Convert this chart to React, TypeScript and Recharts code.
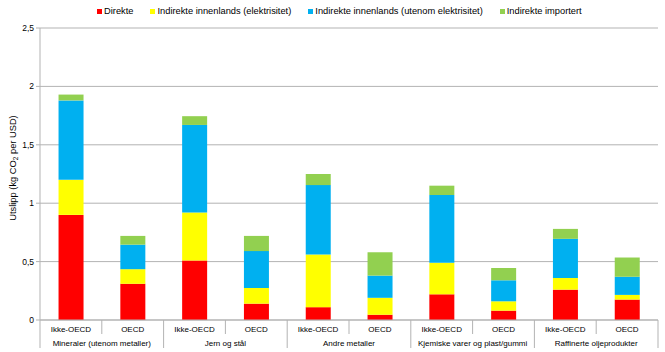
import { BarChart, Bar, XAxis, YAxis, CartesianGrid } from "recharts";

const regions = ["Ikke-OECD", "OECD", "Ikke-OECD", "OECD", "Ikke-OECD", "OECD", "Ikke-OECD", "OECD", "Ikke-OECD", "OECD"];
const sectors = [
  "Mineraler (utenom metaller)",
  "Jern og stål",
  "Andre metaller",
  "Kjemiske varer og plast/gummi",
  "Raffinerte oljeprodukter",
];

const direkte = [0.9, 0.31, 0.51, 0.14, 0.11, 0.045, 0.22, 0.08, 0.26, 0.175];
const elektrisitet = [0.3, 0.125, 0.41, 0.135, 0.45, 0.145, 0.27, 0.08, 0.1, 0.04];
const utenomElektrisitet = [0.68, 0.21, 0.75, 0.315, 0.595, 0.19, 0.58, 0.18, 0.335, 0.155];
const importert = [0.05, 0.075, 0.075, 0.13, 0.095, 0.2, 0.08, 0.105, 0.085, 0.165];

const yTicks = [0, 0.5, 1, 1.5, 2, 2.5];

const series = [
  { key: "direkte", name: "Direkte", color: "#ff0000" },
  { key: "elektrisitet", name: "Indirekte innenlands (elektrisitet)", color: "#ffff00" },
  { key: "utenom", name: "Indirekte innenlands (utenom elektrisitet)", color: "#00b0f0" },
  { key: "importert", name: "Indirekte importert", color: "#92d050" },
];

const data = regions.map((region, i) => ({
  region,
  sector: sectors[Math.floor(i / 2)],
  direkte: direkte[i],
  elektrisitet: elektrisitet[i],
  utenom: utenomElektrisitet[i],
  importert: importert[i],
}));

const W = 665;
const H = 352;
const margin = { top: 28, right: 7, bottom: 2, left: 10 };
const Y_AXIS_W = 30;
const PLOT_W = W - margin.left - margin.right - Y_AXIS_W;
const band = PLOT_W / data.length;

const FONT = "'Liberation Sans', Arial, sans-serif";
const GRID = "#b3b3b3";

function CategoryTick(props: any) {
  const { x, y, payload } = props;
  const i = payload.index;
  const d = data[i];
  const right = x + band / 2;
  const left = x - band / 2;
  return (
    <g>
      <text x={x} y={y + 12} textAnchor="middle" fontSize={8} fill="#000" fontFamily={FONT}>
        {d.region}
      </text>
      {i === 0 && <line x1={left} x2={left} y1={y} y2={y + 28} stroke={GRID} />}
      <line x1={right} x2={right} y1={y} y2={y + (i % 2 === 1 ? 28 : 14)} stroke={GRID} />
      {i % 2 === 0 && (
        <text x={right} y={y + 25.5} textAnchor="middle" fontSize={8} fill="#000" fontFamily={FONT}>
          {d.sector}
        </text>
      )}
    </g>
  );
}

function YLabel(props: any) {
  const cx = 13;
  const cy = 168;
  return (
    <text
      x={cx}
      y={cy}
      transform={`rotate(-90 ${cx} ${cy})`}
      textAnchor="middle"
      dominantBaseline="central"
      fontSize={9.3}
      fill="#000"
      fontFamily={FONT}
    >
      Utslipp (kg CO
      <tspan fontSize={6.5} dy={2}>2</tspan>
      <tspan dy={-2}> per USD)</tspan>
    </text>
  );
}

export default function App() {
  return (
    <div style={{ position: "absolute", left: 0, top: 0, width: W, height: H, background: "#fff" }}>
      <div
        style={{
          position: "absolute",
          left: 97,
          top: 6,
          display: "flex",
          alignItems: "center",
          fontFamily: FONT,
          fontSize: 9.3,
          color: "#000",
          whiteSpace: "nowrap",
        }}
      >
        {series.map((s) => (
          <div key={s.key} style={{ display: "flex", alignItems: "center", marginRight: 17 }}>
            <span style={{ display: "inline-block", width: 5, height: 5, background: s.color, marginRight: 2 }} />
            <span>{s.name}</span>
          </div>
        ))}
      </div>
      <BarChart width={W} height={H} data={data} margin={margin} barCategoryGap="30%">
        <CartesianGrid vertical={false} stroke={GRID} />
        <XAxis
          dataKey="region"
          interval={0}
          height={30}
          tickSize={0}
          tickMargin={0}
          tickLine={false}
          axisLine={{ stroke: GRID }}
          tick={<CategoryTick />}
        />
        <YAxis
          width={Y_AXIS_W}
          domain={[0, 2.5]}
          ticks={yTicks}
          tickSize={4}
          tickMargin={2}
          axisLine={{ stroke: GRID }}
          tickLine={{ stroke: GRID }}
          tick={{ fontSize: 8.5, fill: "#000", fontFamily: FONT }}
          tickFormatter={(v: number) => String(v).replace(".", ",")}
          label={{ content: <YLabel /> }}
        />
        {series.map((s) => (
          <Bar key={s.key} dataKey={s.key} name={s.name} stackId="a" fill={s.color} isAnimationActive={false} />
        ))}
      </BarChart>
    </div>
  );
}
